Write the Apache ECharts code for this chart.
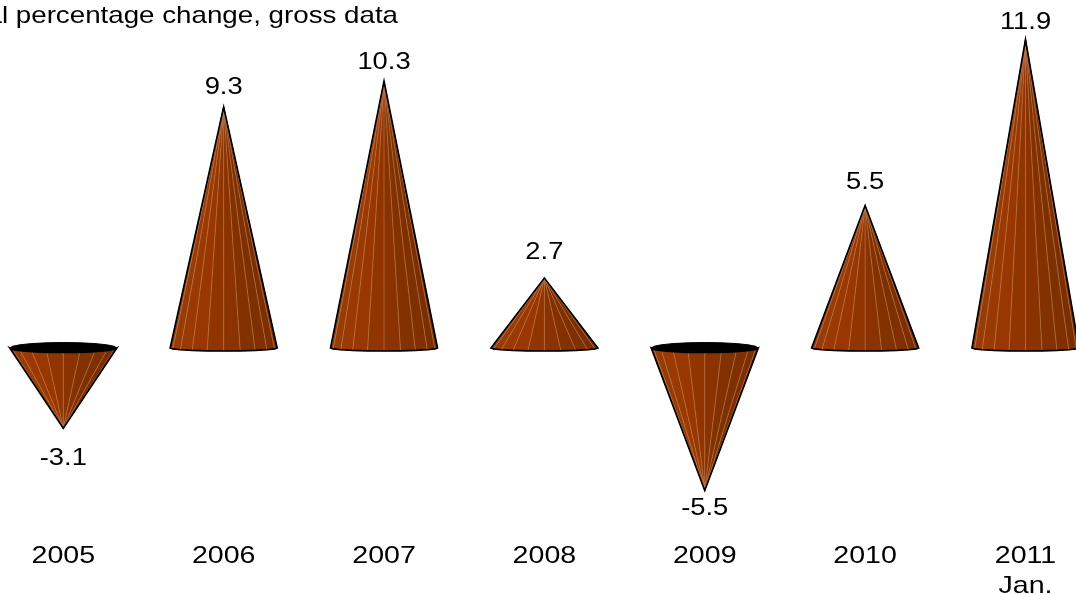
<!DOCTYPE html>
<html>
<head>
<meta charset="utf-8">
<style>html,body{margin:0;padding:0;background:#fff;overflow:hidden}#c{width:1076px;height:594px}</style>
<script src="https://cdn.jsdelivr.net/npm/echarts@6/dist/echarts.min.js"></script>
</head>
<body>
<div id="c"></div>
<script>
var categories = ['2005', '2006', '2007', '2008', '2009', '2010', '2011\nJan.'];
var values = [-3.1, 9.3, 10.3, 2.7, -5.5, 5.5, 11.9];
var subtitle = 'Annual percentage change, gross data';

var FONT = '"Liberation Sans", Arial, sans-serif';
var STRETCH = 1.14, YEAR_STRETCH = 1.19, TITLE_STRETCH = 1.155, FACETS = 10, Y_MIN = -6, Y_MAX = 12;
var X_MIN = -0.3947, X_MAX = 6.315;
var STOPS = [[0, [146, 62, 14]], [0.3, [155, 56, 0]], [0.6, [134, 50, 0]], [1, [118, 44, 0]]];

function shade(t) {
  for (var i = 1; i < STOPS.length; i++) {
    if (t <= STOPS[i][0]) {
      var a = STOPS[i - 1], b = STOPS[i], k = (t - a[0]) / (b[0] - a[0]);
      return 'rgb(' + a[1].map(function (c, j) { return Math.round(c + (b[1][j] - c) * k); }).join(',') + ')';
    }
  }
  return 'rgb(118,44,0)';
}

function labelGap(v) {
  return v >= 0 ? 28 - 0.85 * v : 45.5 - 5 * Math.abs(v);
}

function renderCone(params, api) {
  var idx = api.value(0), v = api.value(1);
  var base = api.coord([idx, 0]), tip = api.coord([idx, v]);
  var R = (api.coord([idx + 1, 0])[0] - base[0]) * 0.3335, cx = base[0], by = base[1];
  var up = v >= 0, D = up ? 3 : 4.5, kids = [], front = [], back = [], i;
  for (i = 0; i <= FACETS; i++) {
    var a = Math.PI * i / FACETS;
    front.push([cx - Math.cos(a) * R, by + Math.sin(a) * D]);
    back.push([cx - Math.cos(a) * R, by - Math.sin(a) * (D + 1)]);
  }
  if (!up) {
    kids.push({ type: 'polygon', shape: { points: front.concat(back.slice().reverse()) },
      style: { fill: '#000', stroke: '#000', lineWidth: 1 } });
  }
  for (i = 0; i < FACETS; i++) {
    kids.push({ type: 'polygon', shape: { points: [front[i], front[i + 1], tip] },
      style: { fill: shade((i + 0.5) / FACETS), stroke: shade((i + 0.5) / FACETS), lineWidth: 0.5 } });
  }
  for (i = 1; i < FACETS; i++) {
    kids.push({ type: 'line', shape: { x1: front[i][0], y1: front[i][1], x2: tip[0], y2: tip[1] },
      style: { stroke: 'rgba(236,190,150,0.42)', lineWidth: 0.8 } });
  }
  kids.push({ type: 'polygon', shape: { points: front.concat([tip]) },
    style: { fill: 'none', stroke: '#000', lineWidth: 1.7, lineJoin: 'miter' } });
  kids.push({ type: 'text', x: cx, y: tip[1] + (up ? -1 : 1) * labelGap(v), scaleX: STRETCH,
    style: { text: v.toFixed(1), align: 'center', verticalAlign: 'middle', fill: '#000', font: '24px ' + FONT } });
  kids.push({ type: 'text', x: cx, y: api.coord([idx, Y_MIN])[1] + 38, scaleX: YEAR_STRETCH,
    style: { text: categories[idx], align: 'center', verticalAlign: 'top', fill: '#000', font: '24px ' + FONT, lineHeight: 30 } });
  return { type: 'group', children: kids };
}

var chart = echarts.init(document.getElementById('c'));
chart.setOption({
  animation: false,
  backgroundColor: '#fff',
  grid: { left: 0, right: 0, top: 37.2, height: 466.2 },
  xAxis: { type: 'value', min: X_MIN, max: X_MAX, show: false },
  yAxis: { type: 'value', min: Y_MIN, max: Y_MAX, show: false },
  graphic: [{ type: 'text', x: 398, y: 16.5, scaleX: TITLE_STRETCH,
    style: { text: subtitle, align: 'right', verticalAlign: 'middle', fill: '#000', font: '24px ' + FONT } }],
  series: [{
    type: 'custom',
    clip: false,
    renderItem: renderCone,
    data: values.map(function (v, i) { return [i, v]; }),
    encode: { x: 0, y: 1 }
  }]
});
</script>
</body>
</html>
